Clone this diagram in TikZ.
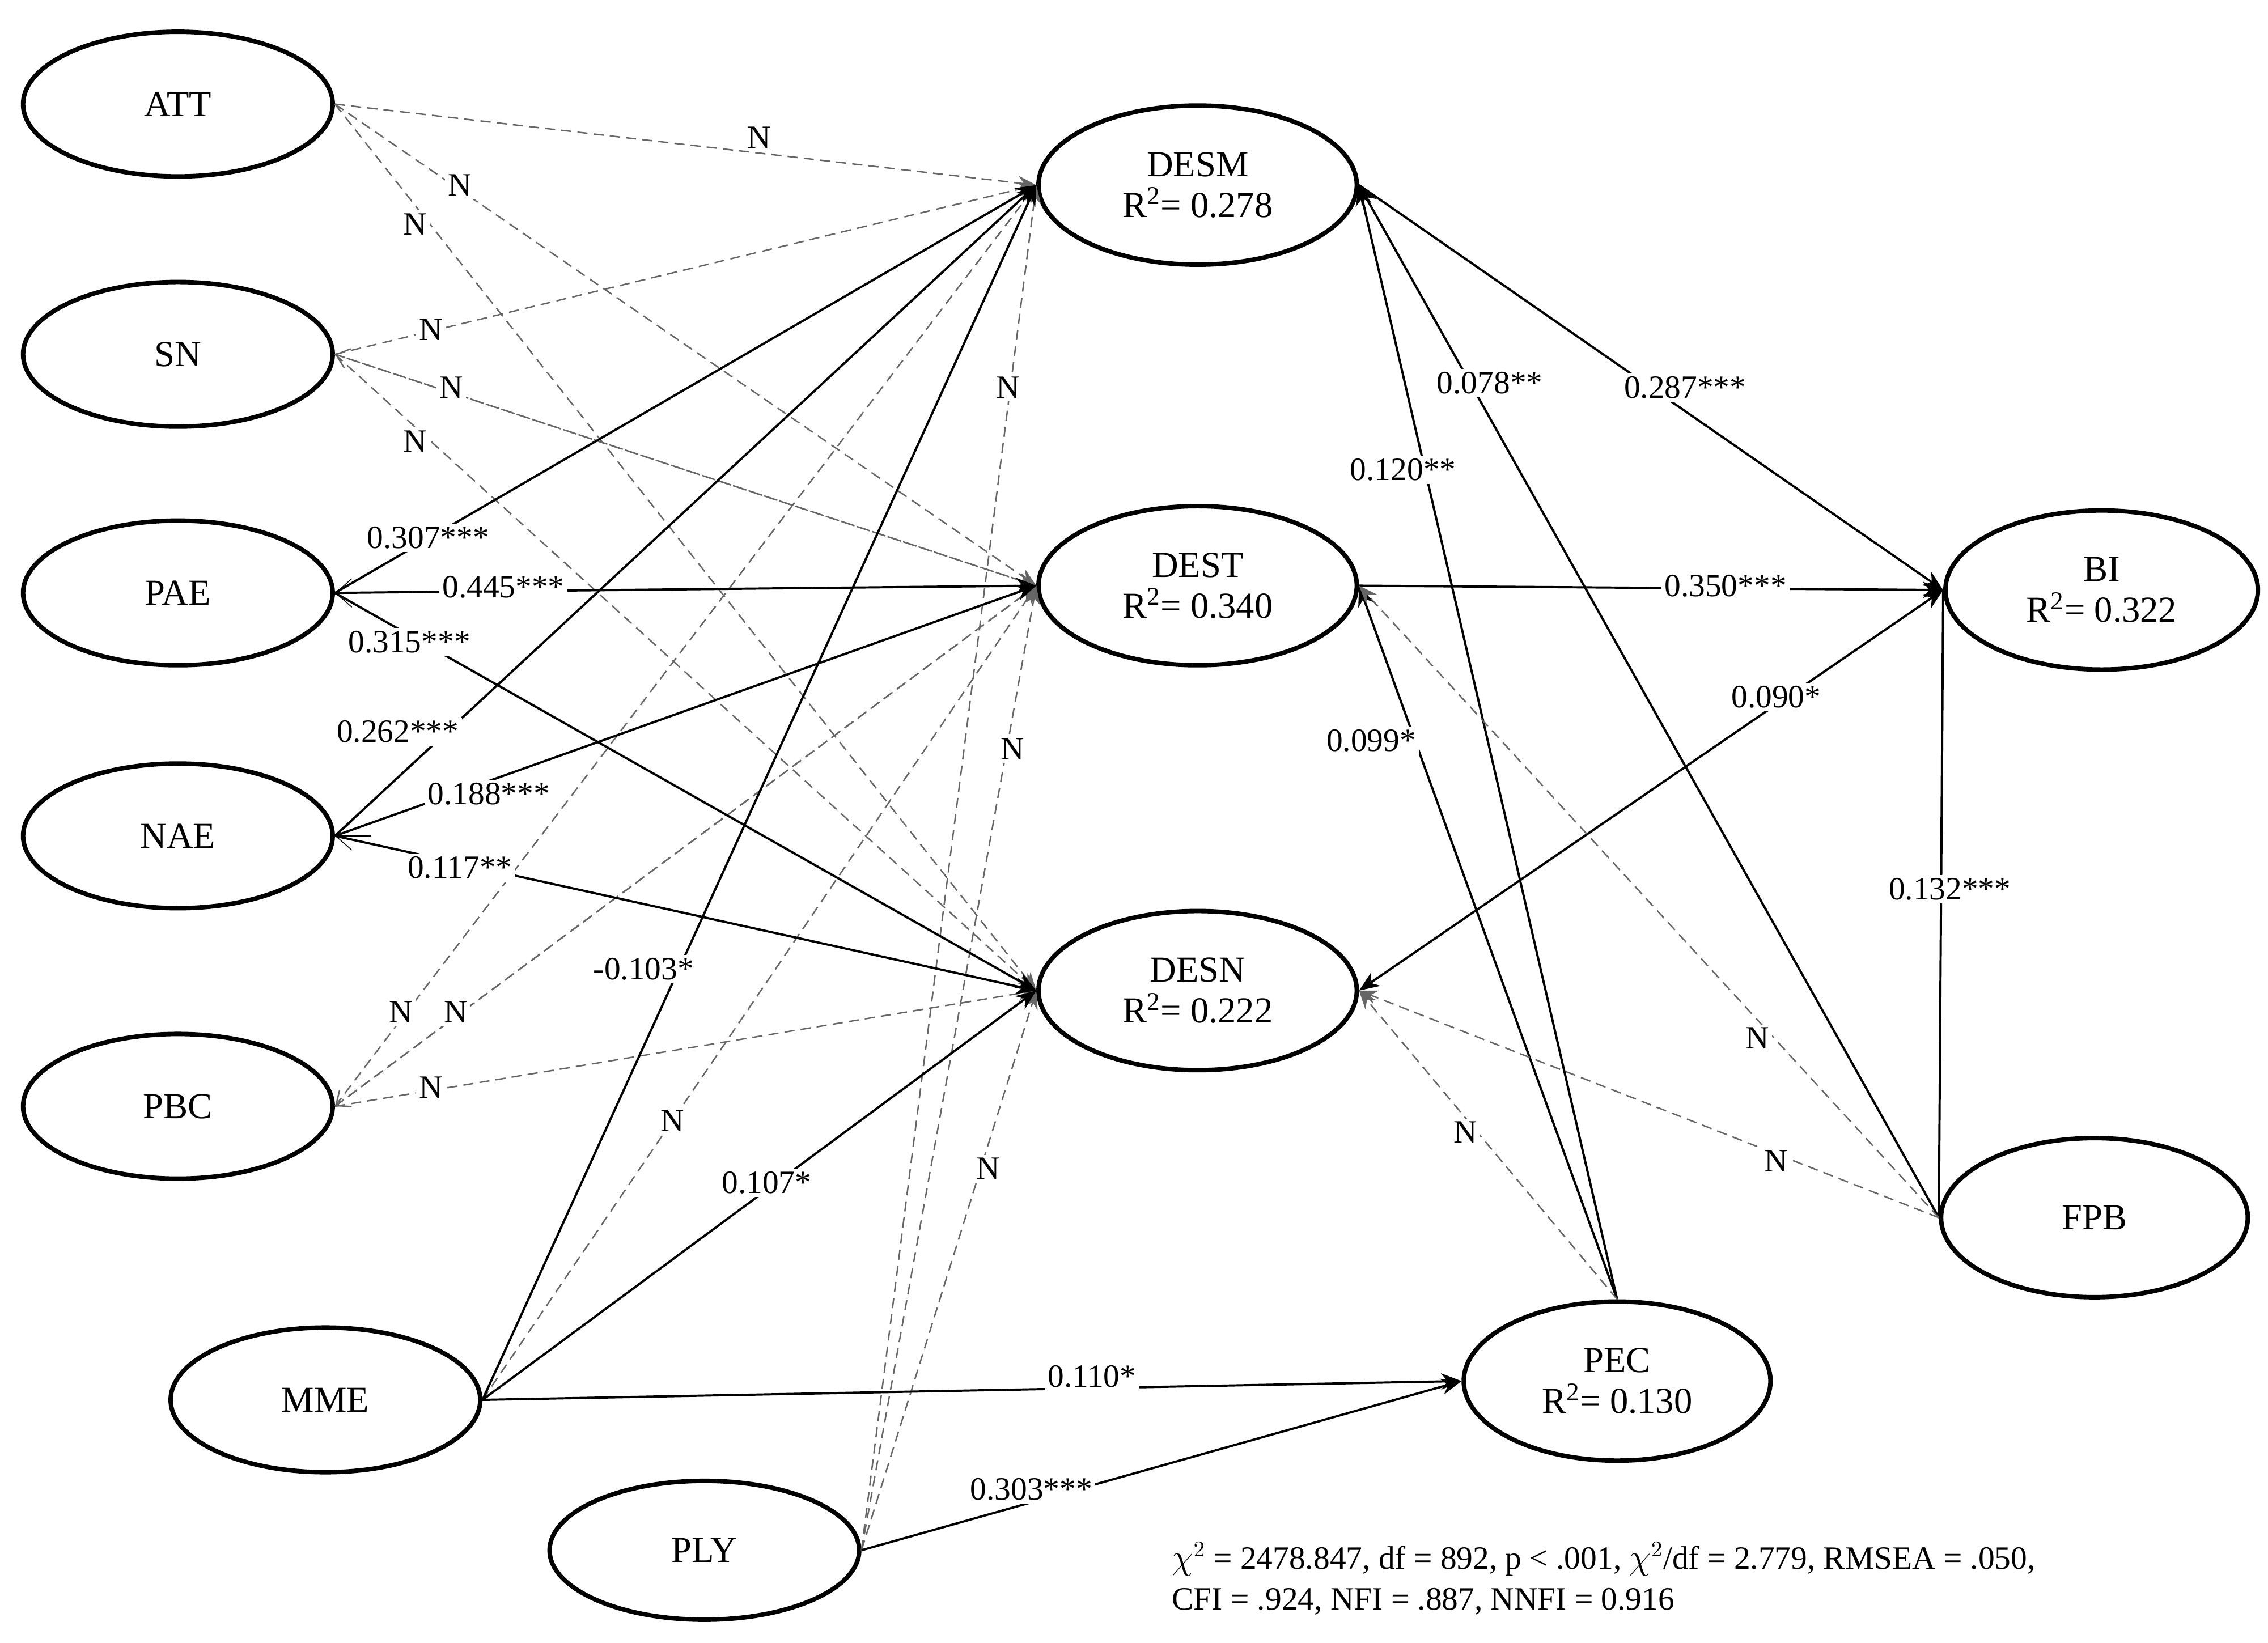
\documentclass[tikz,border=0pt]{standalone}
\usepackage{fontspec}
\setmainfont{Liberation Serif}
\usetikzlibrary{shapes.geometric,arrows.meta}
\begin{document}
\begin{tikzpicture}[x=0.025cm,y=-0.025cm,
  lat/.style={ellipse,draw,line width=2.2pt,minimum width=5.35cm,minimum height=2.5cm,align=center,font=\fontsize{18}{20}\selectfont,inner sep=0pt},
  sol/.style={line width=1.1pt,-{Stealth[length=10pt,width=8pt]}},
  dsh/.style={line width=0.7pt,gray!80!black,dash pattern=on 5pt off 3pt,-{Stealth[length=9pt,width=7pt]}},
  bk/.style={{Straight Barb[length=8pt,width=14pt]}-},
  lb/.style={fill=white,inner sep=1.5pt,font=\fontsize{16}{17}\selectfont}]
\useasboundingbox (0,0) rectangle (1568,1136);
\node[lat] (ATT) at (123,72) {ATT};
\node[lat] (SN) at (123,245) {SN};
\node[lat] (PAE) at (123,410) {PAE};
\node[lat] (NAE) at (123,578) {NAE};
\node[lat] (PBC) at (123,765) {PBC};
\node[lat] (MME) at (225,968) {MME};
\node[lat,minimum height=2.4cm] (PLY) at (487,1072) {PLY};
\node[lat,minimum width=5.5cm,minimum height=2.75cm] (DESM) at (828,128) {DESM\\R\textsuperscript{2}= 0.278};
\node[lat,minimum width=5.5cm,minimum height=2.75cm] (DEST) at (828,405) {DEST\\R\textsuperscript{2}= 0.340};
\node[lat,minimum width=5.5cm,minimum height=2.75cm] (DESN) at (828,685) {DESN\\R\textsuperscript{2}= 0.222};
\node[lat,minimum width=5.3cm,minimum height=2.75cm] (PEC) at (1118,955) {PEC\\R\textsuperscript{2}= 0.130};
\node[lat,minimum width=5.4cm,minimum height=2.75cm] (BI) at (1453,408) {BI\\R\textsuperscript{2}= 0.322};
\node[lat,minimum width=5.3cm,minimum height=2.75cm] (FPB) at (1448,842) {FPB};
% dashed from left
\foreach \s in {ATT,SN,PBC}{
  \draw[dsh] (\s.east) -- (DESM.west);
  \draw[dsh] (\s.east) -- (DEST.west);
  \draw[dsh] (\s.east) -- (DESN.west);}
\foreach \s in {SN,PBC}{\draw[dsh,-{Straight Barb[length=6pt,width=10pt]}] (DEST.west) -- (\s.east);}
\draw[dsh] (MME.east) -- (DEST.west);
\foreach \t in {DESM,DEST,DESN}{\draw[dsh] (PLY.east) -- (\t.west);}
% solid from PAE/NAE
\foreach \s in {PAE,NAE}{
  \draw[sol] (\s.east) -- (DESM.west);
  \draw[sol] (\s.east) -- (DEST.west);
  \draw[sol] (\s.east) -- (DESN.west);
  \draw[bk] (\s.east) -- +(25,0);}
\draw[sol] (MME.east) -- (DESM.west);
\draw[sol] (MME.east) -- (DESN.west);
\draw[sol] (MME.east) -- (PEC.west);
\draw[sol] (PLY.east) -- (PEC.west);
% right side
\draw[sol] (DESM.east) -- (BI.west);
\draw[sol] (DEST.east) -- (BI.west);
\draw[sol] (PEC.north) -- (DESM.east);
\draw[sol] (PEC.north) -- (DEST.east);
\draw[sol] (FPB.west) -- (DESM.east);
\draw[sol,{Stealth[length=10pt,width=8pt]}-{Stealth[length=10pt,width=8pt]}] (DESN.east) -- (BI.west);
\draw[line width=1.1pt] (FPB.west) -- (BI.west);
\draw[dsh] (PEC.north) -- (DESN.east);
\draw[dsh] (FPB.west) -- (DEST.east);
\draw[dsh] (FPB.west) -- (DESN.east);
% labels
\foreach \x/\y/\t in {525/95/N,318/128/N,287/155/N,298/228/N,312/268/N,287/305/N,277/700/N,315/700/N,298/752/N,697/268/N,700/518/N,683/808/N,465/775/N,1013/783/N,1215/718/N,1228/803/N}
  \node[lb] at (\x,\y) {\t};
\node[lb] at (296,372) {0.307***};
\node[lb] at (348,406) {0.445***};
\node[lb] at (283,444) {0.315***};
\node[lb] at (275,506) {0.262***};
\node[lb] at (338,549) {0.188***};
\node[lb] at (318,600) {0.117**};
\node[lb] at (445,670) {-0.103*};
\node[lb] at (530,818) {0.107*};
\node[lb] at (755,952) {0.110*};
\node[lb] at (713,1030) {0.303***};
\node[lb] at (1030,265) {0.078**};
\node[lb] at (1165,268) {0.287***};
\node[lb] at (970,325) {0.120**};
\node[lb] at (1193,405) {0.350***};
\node[lb] at (1228,482) {0.090*};
\node[lb] at (948,512) {0.099*};
\node[lb] at (1348,615) {0.132***};
\node[anchor=north west,align=left,font=\fontsize{16}{20}\selectfont,inner sep=0pt] (fit) at (810,1066) {$\chi^2$ = 2478.847, df = 892, p < .001, $\chi^2$/df = 2.779, RMSEA = .050,\\CFI = .924, NFI = .887, NNFI = 0.916};
\end{tikzpicture}
\end{document}
